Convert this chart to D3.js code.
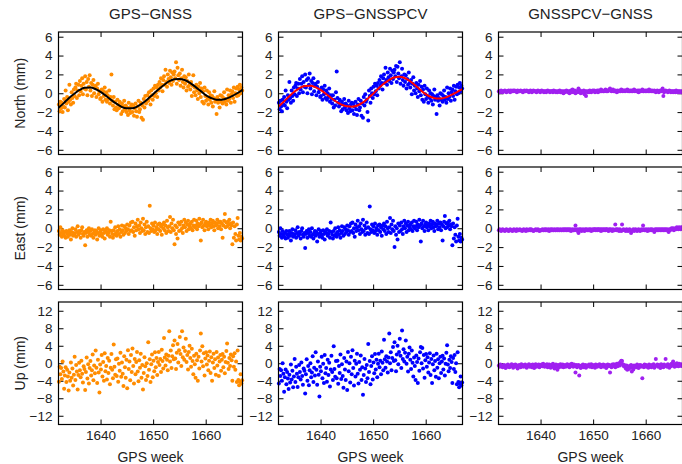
<!DOCTYPE html>
<html lang="en">
<head>
  <meta charset="UTF-8"/>
  <title>GPS / GNSS residuals</title>
  <script src="https://d3js.org/d3.v7.min.js"></script>
  <style>
body {
  margin: 0;
  background: #fff;
  font-family: 'Liberation Sans', Arial, sans-serif;
}

svg {
  display: block;
}

text {
  fill: #222;
}

text.title {
  font-size: 15px;
}

text.label {
  font-size: 14px;
}

.tick text {
  font-size: 13.5px;
  fill: #222;
}

.tick line {
  stroke: #000;
}

rect.frame {
  fill: none;
  stroke: #000;
  stroke-width: 1.2;
}
  </style>
</head>
<body>
  <svg width="682" height="464"></svg>
  <script>

// x axis: daily solutions between these GPS weeks
const firstWeek = 1632
const lastWeek = 1667
const xTicks = [1640, 1650, 1660]

const columnTitles = ['GPS\u2212GNSS', 'GPS\u2212GNSSPCV', 'GNSSPCV\u2212GNSS']
const rowLabels = ['North (mm)', 'East (mm)', 'Up (mm)']
const horizTicks = [-6, -4, -2, 0, 2, 4, 6]
const upTicks = [-12, -8, -4, 0, 4, 8, 12]

// North, mm (one value per day)
const gpsGnssNorth = [
  -1.2,-1.9,-0.9,-1.6,-1.0,-2.0,-1.4, -0.6,-1.5,0.3,-1.1,-0.4,-1.8,-0.9,
  0.9,-0.7,-1.2,0.1,-0.5,-1.0,0.4, -0.3,0.6,1.0,-0.5,0.3,0.9,-0.2,
  1.3,0.2,0.8,1.6,-0.1,1.0,0.5, 1.8,0.4,1.2,-0.2,1.5,0.7,1.9,
  0.3,1.1,-0.3,0.9,1.4,0.0,0.6, 0.8,-0.4,0.5,1.0,-0.1,0.2,-0.6,
  -0.5,0.4,-0.9,0.2,-0.3,0.6,-0.7, 0.1,-0.9,-0.2,-0.6,0.3,-1.1,-0.4,
  2.0,-0.8,-1.3,-0.4,-1.7,-0.9,-1.5, -1.8,-0.7,-1.2,-1.6,-0.9,-1.4,-2.2,
  -1.1,-1.9,-1.4,-0.8,-1.7,-1.3,-2.0, -1.5,-2.3,-1.0,-1.8,-2.1,-1.4,-1.2,
  -2.0,-1.3,-2.4,-1.6,-1.1,-1.9,-2.5, -1.4,-0.8,-2.0,-1.7,-1.0,-2.6,-1.3,
  -2.8,-0.6,-1.5,-0.3,-1.1,-0.9,-0.2, -0.8,0.1,-0.5,-1.2,0.3,-0.2,-0.7,
  0.5,-0.3,0.8,0.0,0.6,-0.4,0.9, 0.3,1.2,0.6,1.6,0.9,0.2,1.4,
  1.8,0.9,2.5,1.2,0.7,2.0,1.5, 1.1,2.4,1.7,0.9,2.2,1.3,2.0,
  2.3,1.6,3.3,1.0,2.7,1.9,1.4, 2.1,0.8,1.6,2.5,1.2,0.6,1.8,
  1.0,1.7,0.3,1.3,0.7,2.0,0.9, 0.4,1.2,-0.3,0.8,1.9,0.1,0.6,
  -0.2,0.9,0.3,-0.6,0.7,0.0,1.1, -0.4,0.5,-0.9,0.2,-1.1,0.6,-0.3,
  -0.8,0.3,-0.5,-1.2,0.1,-0.7,-0.2, -1.0,-0.3,-1.4,-0.5,0.2,-0.9,-0.6,
  -2.2,-0.4,-1.0,-0.7,-1.5,-0.2,-0.9, -0.3,-1.1,-0.5,0.1,-0.9,-0.6,-1.2,
  0.4,-0.8,-0.2,-0.6,0.3,-1.0,-0.1, 0.2,-0.5,0.6,-0.9,0.0,0.5,-0.3,
  0.7,-0.2,0.4,0.9,0.0,0.6,0.3
]
const gpsGnssPcvNorth = [
  -1.0,-1.7,-0.8,-1.4,-1.9,-0.7,-1.2, -0.4,-1.3,0.3,-0.9,-1.6,-0.2,-0.7,
  1.2,-0.5,-1.0,0.3,-0.3,-0.8,0.6, -0.1,0.8,1.1,-0.3,0.5,1.0,0.0,
  1.5,0.4,1.0,1.8,0.1,1.2,0.7, 2.0,0.6,1.4,0.0,1.6,0.9,2.1,
  0.5,1.3,-0.1,1.1,1.6,0.2,0.8, 1.0,-0.2,0.7,1.2,0.1,0.4,-0.4,
  -0.3,0.6,-0.7,0.4,-0.1,0.8,-0.5, 0.3,-0.7,0.0,-0.4,0.5,-0.9,-0.2,
  -0.6,-1.1,-0.2,-1.5,-0.7,-1.3,0.1, 2.3,-0.5,-1.0,-1.4,-0.7,-1.2,-1.9,
  -0.9,-1.7,-1.2,-0.6,-1.5,-1.1,-1.8, -1.3,-2.1,-0.8,-1.6,-1.9,-1.2,-1.0,
  -1.8,-1.1,-2.2,-1.4,-0.9,-1.7,-2.3, -1.2,-0.6,-1.8,-1.5,-0.8,-2.4,-1.1,
  -2.6,-0.4,-1.3,-0.1,-0.9,-0.7,-2.0, -2.9,0.3,-0.3,-1.0,0.5,0.0,-0.5,
  0.7,-0.1,1.0,0.2,0.8,-0.2,1.1, 0.5,1.4,0.8,1.8,1.1,0.4,1.6,
  2.0,1.1,2.7,1.4,0.9,2.2,1.7, 1.3,2.6,1.9,1.1,2.4,1.5,2.2,
  2.5,1.8,2.9,1.2,2.8,2.1,1.6, 3.3,1.0,1.8,2.6,1.4,0.8,2.0,
  1.2,1.9,0.5,1.5,0.9,2.2,1.1, 0.6,1.4,-0.1,1.0,1.7,0.3,0.8,
  0.0,1.1,0.5,-0.4,0.9,0.2,1.3, -0.2,0.7,-0.7,0.4,-0.9,0.8,-0.1,
  -0.6,0.5,-0.3,-1.0,0.3,-0.5,0.0, -0.8,-0.1,-1.2,-0.3,0.4,-0.7,-0.4,
  -2.2,-0.2,-0.8,-0.5,-1.3,0.0,-0.7, -0.1,-0.9,-0.3,0.3,-0.7,-0.4,-1.0,
  0.6,-0.6,0.0,-0.4,0.5,-0.8,0.1, 0.4,-0.3,0.8,-0.7,0.2,0.7,-0.1,
  0.9,0.0,0.6,1.1,0.2,0.8,0.5
]
const gnssPcvGnssNorth = [
  0.2,0.1,0.2,0.3,0.2,0.1,0.2, 0.2,0.3,0.2,0.1,0.2,0.2,0.3,
  0.2,0.1,0.3,0.2,0.2,0.3,0.2, 0.3,0.2,0.2,0.1,0.3,0.2,0.2,
  0.2,0.3,0.2,0.2,0.1,0.2,0.3, 0.2,0.2,0.3,0.2,0.2,0.1,0.2,
  0.3,0.2,0.1,0.2,0.3,0.2,0.2, 0.2,0.1,0.2,0.3,0.2,0.2,0.1,
  0.2,0.3,0.2,0.2,0.1,0.2,0.2, 0.1,0.2,0.3,0.2,0.2,0.1,0.2,
  0.2,0.2,0.1,0.3,0.2,0.2,0.1, 0.2,0.1,0.2,0.2,0.3,0.1,0.2,
  0.1,0.2,0.0,0.2,0.1,0.2,0.3, 0.2,0.1,0.2,0.0,0.2,0.3,0.1,
  0.4,0.2,0.1,0.3,0.0,0.2,0.1, 0.2,0.5,0.1,0.3,0.0,0.2,0.1,
  0.1,0.3,-0.1,0.2,-0.3,0.2,0.1, 0.2,0.1,0.3,0.2,0.1,0.2,0.3,
  0.2,0.3,0.1,0.2,0.2,0.3,0.1, 0.3,0.2,0.2,0.4,0.2,0.3,0.2,
  0.2,0.3,0.4,0.2,0.3,0.2,0.3, 0.4,0.5,0.3,0.2,0.3,0.4,0.2,
  0.2,0.3,0.2,0.1,0.3,0.2,0.2, 0.3,0.2,0.4,0.3,0.2,0.3,0.3,
  0.2,0.3,0.3,0.4,0.2,0.3,0.2, 0.3,0.2,0.3,0.2,0.3,0.4,0.2,
  0.3,0.2,0.2,0.3,0.1,0.3,0.2, 0.2,0.3,0.4,0.2,0.2,0.3,0.2,
  0.3,0.2,0.3,0.2,0.4,0.2,0.3, 0.2,0.3,0.2,0.2,0.3,0.2,0.1,
  0.2,0.3,0.2,0.1,0.2,0.3,0.2, 0.3,0.5,-0.3,0.1,0.2,0.3,0.2,
  0.2,0.1,0.2,0.3,0.2,0.1,0.2, 0.2,0.1,0.2,0.2,0.1,0.3,0.2,
  0.1,0.2,0.2,0.1,0.2,0.1,0.2
]

// East, mm
const gpsGnssEast = [
  -0.3,-0.7,0.1,-0.5,-0.9,-0.2,-0.6, -0.8,-0.4,-1.0,-0.3,-0.6,-0.9,-0.5,
  -0.2,-0.7,-1.2,-0.4,0.0,-0.8,-0.5, -0.6,-0.1,-0.9,-0.4,0.2,-0.7,-0.3,
  -0.5,-1.0,-0.2,0.1,-0.6,-0.8,-0.4, -1.8,-0.5,-0.2,-0.9,-0.4,0.0,-0.7,
  -0.3,-0.8,-0.1,-0.6,-1.0,-0.4,-0.2, -0.7,-0.3,-1.2,-0.5,0.0,-0.8,-0.4,
  -0.2,-0.6,-0.9,-0.1,-0.5,-1.1,-0.3, -0.4,0.0,-0.7,-0.5,-0.2,-0.9,0.7,
  -0.3,-0.6,-1.0,-0.2,-0.7,0.1,-0.5, -0.8,-0.3,0.2,-0.6,-0.1,-0.9,-0.4,
  0.3,-0.2,-0.7,0.2,-0.5,0.0,-0.3, 0.4,-0.1,-0.6,0.3,-0.3,0.6,-0.2,
  0.7,-0.4,0.1,-0.8,0.5,-0.2,0.2, 0.9,-0.1,0.3,-0.5,0.6,0.0,-0.3,
  1.0,-0.2,0.4,-0.6,0.1,0.7,-0.4, 0.2,-0.5,2.4,0.0,-0.3,0.5,-0.1,
  0.3,-0.4,0.6,-0.2,0.1,-0.6,0.4, -0.1,0.5,-0.3,0.2,-0.7,0.4,0.0,
  0.6,-0.2,0.3,-0.5,0.8,0.1,-0.3, 0.2,1.2,-0.4,0.5,0.0,0.9,-0.2,
  -1.7,0.3,-0.6,0.1,-1.1,0.6,-0.3, 0.4,-0.2,0.7,0.0,-0.5,0.3,0.9,
  0.1,0.6,-0.3,0.4,0.8,-0.1,0.2, 0.5,0.0,0.7,-0.2,0.3,0.9,0.1,
  0.3,0.8,-0.1,0.5,0.2,1.0,0.4, -1.3,0.6,0.1,0.9,0.3,-0.2,0.5,
  0.7,0.2,0.4,-0.1,0.6,0.3,0.9, 0.1,0.5,0.8,0.2,-0.2,0.6,0.3,
  0.4,0.9,0.0,0.6,0.2,0.7,-0.1, 0.5,-1.0,0.3,0.8,1.5,0.1,0.6,
  0.2,0.7,0.4,0.9,0.0,0.5,0.3, -1.7,0.6,-1.0,0.2,-0.6,-1.3,0.4,
  1.1,-0.8,-1.2,-0.5,-1.3,-0.9,-1.1
]
const gpsGnssPcvEast = [
  -0.4,-0.8,0.0,-0.6,-1.0,-0.3,-0.7, -0.9,-0.5,-1.1,-0.3,-0.7,-1.0,-0.6,
  -0.3,-0.8,-1.3,-0.5,-0.1,-0.9,-0.6, -0.7,-0.2,-1.0,-0.5,0.1,-0.8,-0.4,
  -0.6,-1.1,-0.3,0.0,-0.7,-0.9,-0.5, -2.1,-0.6,-0.3,-1.0,-0.5,-0.1,-0.8,
  -0.4,-0.9,0.0,-0.7,-1.1,-0.5,-0.3, -0.8,-0.4,-1.4,-0.6,-0.1,-0.9,-0.5,
  -0.3,-0.7,-1.0,-0.2,-0.6,-1.2,-0.4, -0.5,-0.1,-0.8,-0.6,-0.3,-1.0,0.6,
  -0.4,-0.7,-1.1,-0.3,-0.8,0.0,-0.6, -0.9,-0.4,0.1,-0.7,-0.2,-1.0,-0.5,
  0.2,-0.3,-0.8,0.1,-0.6,-0.1,-0.4, 0.3,-0.2,-0.7,0.2,-0.4,0.5,-0.3,
  0.6,-0.5,0.0,-0.9,0.4,-0.3,0.1, 0.8,-0.2,0.2,-0.6,0.5,-0.1,-0.4,
  0.9,-0.3,0.3,-0.7,0.0,0.6,-0.5, 0.1,-0.6,2.3,-0.1,-0.4,0.4,-0.2,
  0.2,-0.5,0.5,-0.3,0.0,-0.7,0.3, -0.2,0.4,-0.4,0.1,-0.8,0.3,-0.1,
  0.5,-0.3,0.2,-0.6,0.7,0.0,-0.4, 0.1,1.1,-0.5,0.4,-0.1,0.8,-0.3,
  -2.0,0.2,-0.7,0.0,-1.2,0.5,-0.4, 0.3,-0.3,0.6,-0.1,-0.6,0.2,0.8,
  0.0,0.5,-0.4,0.3,0.7,-0.2,0.1, 0.4,-0.1,0.6,-0.3,0.2,0.8,0.0,
  0.2,0.7,-0.2,0.4,0.1,0.9,0.3, -1.4,0.5,0.0,0.8,0.2,-0.3,0.4,
  0.6,0.1,0.3,-0.2,0.5,0.2,0.8, 0.0,0.4,0.7,0.1,-0.3,0.5,0.2,
  0.3,0.8,-0.1,0.5,0.1,0.6,-0.2, 0.4,-1.3,0.2,0.7,1.3,0.0,0.5,
  0.1,0.6,0.3,0.8,-0.1,0.4,0.2, -1.8,0.5,-1.1,0.1,-0.7,-1.4,0.3,
  1.0,-0.9,-1.3,-0.6,-1.4,-1.0,-1.2
]
const gnssPcvGnssEast = [
  -0.2,-0.1,-0.2,-0.3,-0.2,-0.1,-0.2, -0.2,-0.3,-0.2,-0.1,-0.2,-0.2,-0.3,
  -0.2,-0.1,-0.2,-0.2,-0.3,-0.2,-0.1, -0.2,-0.2,-0.3,-0.1,-0.2,-0.2,-0.2,
  -0.1,-0.2,-0.2,-0.3,-0.2,-0.1,-0.2, -0.2,-0.3,-0.1,-0.2,-0.2,-0.2,-0.1,
  -0.2,-0.1,-0.2,-0.2,-0.3,-0.2,-0.2, -0.1,-0.2,-0.2,-0.1,-0.2,-0.3,-0.2,
  -0.2,-0.2,-0.1,-0.2,-0.2,-0.1,-0.2, -0.1,-0.2,-0.2,-0.1,-0.3,-0.2,-0.1,
  -0.2,-0.1,-0.2,-0.2,-0.1,-0.2,-0.2, -0.1,-0.2,-0.1,-0.2,-0.2,-0.1,-0.2,
  -0.2,-0.1,-0.2,-0.1,-0.2,-0.1,-0.2, -0.1,-0.2,-0.1,-0.2,-0.1,-0.3,-0.2,
  -0.1,-0.2,-0.2,-0.1,0.3,-0.2,-0.1, -0.3,-0.5,-0.1,-0.2,-0.1,-0.3,-0.2,
  -0.1,-0.2,-0.3,-0.1,-0.2,-0.1,-0.2, -0.2,-0.1,-0.2,-0.1,-0.3,-0.2,-0.1,
  -0.2,-0.1,-0.1,-0.2,-0.1,-0.2,-0.1, -0.1,-0.2,-0.1,-0.3,-0.1,-0.2,-0.1,
  -0.2,-0.1,-0.2,-0.1,-0.1,-0.2,-0.3, -0.1,-0.2,-0.1,-0.2,-0.3,-0.1,-0.2,
  -0.2,0.4,-0.1,-0.2,-0.1,-0.2,-0.3, -0.1,-0.2,-0.3,0.4,-0.2,-0.1,-0.2,
  -0.2,-0.3,-0.1,-0.2,-0.3,-0.2,-0.1, -0.2,-0.5,-0.3,-0.2,-0.1,-0.3,-0.2,
  -0.1,-0.2,-0.3,-0.2,-0.1,-0.2,-0.3, -0.2,-0.1,-0.2,0.3,-0.1,-0.2,-0.2,
  -0.1,-0.2,-0.3,-0.1,-0.2,-0.2,-0.1, -0.2,-0.1,-0.2,-0.2,-0.4,-0.1,-0.2,
  -0.1,-0.2,-0.1,-0.2,-0.1,-0.2,-0.1, -0.2,-0.1,-0.2,-0.1,-0.2,-0.1,-0.2,
  -0.1,-0.2,-0.4,-0.1,-0.2,-0.1,0.0, -0.1,0.0,-0.2,-0.1,0.0,-0.1,0.1,
  0.0,-0.1,0.1,0.0,-0.1,0.1,0.0
]

// Up, mm
const gpsGnssUp = [
  -4.2,-0.8,-2.5,-1.1,-3.6,0.4,-1.9, -5.8,-2.8,-0.9,-4.3,-1.5,-3.0,-6.2,
  -2.1,-4.0,0.2,-3.3,-1.2,-5.1,-2.6, 1.5,-3.8,-0.4,-1.9,-6.0,-2.7,0.1,
  -1.6,-3.2,0.6,-2.4,-4.4,-0.7,-1.3, -6.1,-2.0,1.3,-3.5,-0.2,-4.6,-1.1,
  0.5,-2.8,-1.6,2.0,-3.9,-0.5,-2.3, 2.9,-1.0,-4.5,0.8,-2.1,-6.7,-0.3,
  -1.4,1.9,-3.0,0.3,-4.0,2.3,-1.8, -0.6,-3.7,1.2,-2.2,0.6,-4.8,-1.0,
  2.1,-1.5,-3.4,4.3,-0.8,-2.6,0.9, -2.9,1.1,-4.2,-0.1,-1.7,2.4,-3.1,
  0.2,-2.4,-5.2,1.6,-0.9,-3.3,0.8, -5.7,3.0,-1.3,0.4,-3.9,1.9,-2.0,
  3.4,-0.6,-4.6,1.0,-2.5,0.3,2.6, -1.9,-4.1,0.7,-1.0,2.2,-3.3,-0.4,
  -6.0,-2.2,1.4,-0.7,-3.8,0.0,-2.9, 4.8,-1.5,0.9,-4.3,-0.2,2.0,-3.2,
  0.6,-1.8,2.5,-0.9,1.2,-2.7,0.3, 2.6,-0.4,1.0,-2.0,3.1,0.5,-1.2,
  5.8,1.3,-0.5,2.0,0.8,-1.6,1.7, 7.3,0.4,2.9,-1.1,1.6,4.1,0.9,
  5.2,1.1,-1.3,2.4,4.4,0.2,3.0, 6.0,2.1,-0.6,7.3,1.4,3.6,0.8,
  2.8,5.6,0.3,1.9,-1.4,2.6,4.0, 1.2,-0.8,3.3,0.5,-2.5,1.7,-0.2,
  -3.3,2.2,0.7,-4.0,1.5,-1.2,2.9, 6.8,0.4,3.9,-0.7,2.3,-2.8,1.1,
  2.5,-0.3,1.8,-1.6,0.6,2.7,-2.2, 1.4,-4.0,0.2,2.2,-1.1,0.9,-2.6,
  2.6,-0.5,1.3,-2.9,0.4,1.9,-1.7, 0.8,2.1,-0.9,1.5,-2.3,0.3,2.8,
  4.5,0.1,-1.3,1.2,-0.6,2.0,0.7, -4.0,1.6,-0.8,2.3,-1.5,0.4,-4.3,
  2.9,-3.8,-5.0,-4.2,-2.5,-4.6,-3.9
]
const gpsGnssPcvUp = [
  -4.6,-1.3,-2.9,-1.6,-4.0,0.0,-2.4, -6.5,-3.2,-1.4,-4.8,-2.0,-3.5,-5.9,
  -2.6,-4.4,-0.3,-3.7,-1.7,-5.5,-3.0, 1.0,-4.3,-0.8,-2.4,-5.4,-3.2,-0.4,
  -2.0,-3.7,0.2,-2.9,-4.9,-1.2,-1.7, -6.9,-2.5,0.9,-4.0,-0.6,-5.0,-1.6,
  0.0,-3.2,-2.1,1.6,-4.3,-1.0,-2.8, 2.5,-1.5,-4.9,0.4,-2.6,-7.6,-0.8,
  -1.8,1.5,-3.4,-0.1,-4.5,1.9,-2.3, -1.1,-4.2,0.8,-2.7,0.1,-5.3,-1.4,
  1.7,-2.0,-3.8,3.9,-1.3,-3.1,0.5, -3.4,0.6,-4.7,-0.6,-2.2,2.0,-3.6,
  -0.2,-2.9,-5.6,1.2,-1.4,-3.8,0.4, -6.1,2.6,-1.8,0.0,-4.4,1.5,-2.5,
  3.0,-1.1,-5.1,0.6,-3.0,-0.1,2.2, -2.4,-4.6,0.3,-1.5,1.8,-3.8,-0.9,
  -7.2,-2.7,1.0,-1.2,-4.3,-0.4,-3.4, 4.4,-2.0,0.5,-4.8,-0.6,1.6,-3.7,
  0.2,-2.3,2.1,-1.4,0.8,-3.2,-0.1, 2.2,-0.9,0.6,-2.5,2.7,0.1,-1.6,
  5.4,0.9,-1.0,1.6,0.4,-2.1,1.3, 6.8,0.0,2.5,-1.6,1.2,3.7,0.5,
  4.8,0.7,-1.8,2.0,4.0,-0.2,2.6, 5.6,1.7,-1.1,7.5,1.0,3.2,0.4,
  2.4,5.2,-0.1,1.5,-1.9,2.2,3.6, 0.8,-1.3,2.9,0.1,-3.0,1.3,-0.6,
  -3.8,1.8,0.3,-4.5,1.1,-1.7,2.5, 3.7,0.0,3.5,-1.2,1.9,-3.3,0.7,
  2.1,-0.8,1.4,-2.1,0.2,2.3,-2.7, 1.0,-4.5,-0.2,1.8,-1.6,0.5,-3.1,
  2.2,-1.0,0.9,-3.4,0.0,1.5,-2.2, 0.4,1.7,-1.4,1.1,-2.8,-0.1,2.4,
  4.1,-0.3,-1.8,0.8,-1.1,1.6,0.3, -4.5,1.2,-1.3,1.9,-2.0,0.0,-4.8,
  2.5,-4.3,-5.5,-4.7,-3.0,-5.1,-4.4
]
const gnssPcvGnssUp = [
  -0.5,-0.8,-0.3,-0.7,-0.5,-0.9,-0.6, -0.4,-0.7,-1.1,-0.5,-0.8,-0.3,-0.6,
  -0.9,-0.5,-0.7,-0.2,-0.6,-1.0,-0.4, -0.7,-0.3,-0.8,-0.5,-1.2,-0.6,-0.4,
  -0.5,-0.9,-0.2,-0.7,-0.4,-0.8,-0.6, -0.3,-0.7,-1.0,-0.5,-0.6,-0.2,-0.8,
  -0.6,-0.4,-0.9,-0.3,-0.7,-1.1,-0.5, -0.2,-0.8,-0.5,-0.6,-0.3,-0.9,-0.4,
  -0.5,-0.3,-0.7,-0.1,-0.6,-0.8,-0.4, -0.6,-0.2,-0.9,-0.5,-0.3,-0.7,-1.0,
  -0.4,-0.8,-0.1,-0.6,-1.2,-0.5,-0.3, -0.7,-1.5,-0.4,-0.9,-0.6,-0.2,-0.8,
  -0.5,-0.3,-0.9,-0.6,-0.4,-0.8,-0.5, -0.2,-0.7,-0.4,-0.9,-0.3,-0.6,-0.1,
  -0.5,-0.8,-0.3,-0.6,-2.1,-0.4,-0.9, -0.7,-0.4,-2.8,-0.6,-1.1,-0.5,-0.8,
  -0.3,-0.9,-0.6,-0.4,-1.0,-0.5,-0.7, -0.6,-0.3,-0.8,-0.5,-0.2,-0.9,-0.4,
  -0.7,-0.5,-1.0,-0.3,-0.6,-0.8,-0.4, -0.5,-0.2,-0.7,-0.9,-0.4,-0.6,-0.3,
  -0.8,-0.4,-0.6,-1.1,-0.5,-0.3,-0.7, -0.4,-2.1,-0.6,-0.9,-0.3,-0.5,-0.2,
  -0.6,-0.9,-0.4,-0.1,-0.7,-0.3,0.0, -0.5,0.3,0.6,0.5,-0.2,-0.6,-0.4,
  -0.8,-1.2,-0.5,-1.5,-0.9,-1.3,-0.6, -1.0,-0.4,-1.9,-0.7,-1.4,-0.5,-0.8,
  -0.6,-0.9,-0.3,-0.7,-1.1,-0.5,-0.4, -0.8,-0.5,-3.4,-0.6,-0.9,-0.3,-0.7,
  -0.4,-0.8,-0.6,-1.0,-0.3,-0.7,-0.5, -0.9,-0.4,-0.7,-0.2,-1.0,-0.6,1.0,
  -0.5,-0.3,-0.8,-0.4,-0.6,-1.1,-0.2, -0.7,-0.4,-0.9,-0.3,-0.6,1.0,-0.5,
  -0.8,-0.2,-0.6,-1.0,-0.4,-0.7,-0.1, -0.5,0.4,-0.3,-0.8,-0.2,-0.6,0.0,
  -0.4,-0.7,-0.1,-0.5,-0.3,-0.6,-0.2
]

// fitted seasonal signal in North, read once per week
const fitWeeks = [
  1632, 1633, 1634, 1635, 1636, 1637, 1638, 1639, 1640, 1641, 1642, 1643,
  1644, 1645, 1646, 1647, 1648, 1649, 1650, 1651, 1652, 1653, 1654, 1655,
  1656, 1657, 1658, 1659, 1660, 1661, 1662, 1663, 1664, 1665, 1666, 1667
]
const fitGpsGnssNorth = [
  -1.55, -1.05, -0.5, -0.05, 0.35, 0.58, 0.6, 0.45, 0.15, -0.25, -0.7, -1.1,
  -1.45, -1.6, -1.6, -1.4, -1.05, -0.6, -0.1, 0.4, 0.85, 1.25, 1.48, 1.52,
  1.4, 1.1, 0.7, 0.25, -0.2, -0.5, -0.68, -0.7, -0.55, -0.3, 0.0, 0.35
]
const fitGpsGnssPcvNorth = [
  -1.4, -0.9, -0.35, 0.15, 0.55, 0.78, 0.8, 0.65, 0.35, -0.05, -0.5, -0.9,
  -1.2, -1.38, -1.42, -1.3, -1.0, -0.55, -0.05, 0.5, 1.0, 1.4, 1.68, 1.75,
  1.62, 1.3, 0.85, 0.35, -0.1, -0.4, -0.55, -0.55, -0.4, -0.15, 0.15, 0.45
]

const dotColors = ['#ff8c00', '#0000ff', '#a020f0']

const grid = [
  [gpsGnssNorth, gpsGnssPcvNorth, gnssPcvGnssNorth],
  [gpsGnssEast, gpsGnssPcvEast, gnssPcvGnssEast],
  [gpsGnssUp, gpsGnssPcvUp, gnssPcvGnssUp]
]
const fits = [
  { row: 0, col: 0, values: fitGpsGnssNorth, color: '#000' },
  { row: 0, col: 1, values: fitGpsGnssPcvNorth, color: '#ff0000' }
]

const svg = d3.select('svg')

const plotW = 184
const plotH = 122.5
const lefts = [58.5, 278.5, 498.5]
const tops = [32, 167, 302]

const xScale = d3.scaleLinear()
  .domain([firstWeek, lastWeek])
  .range([0, plotW])

const yScales = [
  d3.scaleLinear().domain([-6.5, 6.5]).range([plotH, 0]),
  d3.scaleLinear().domain([-6.5, 6.5]).range([plotH, 0]),
  d3.scaleLinear().domain([-14, 14]).range([plotH, 0])
]
const yTickSets = [horizTicks, horizTicks, upTicks]

// one sample per day, centred in the day
const dayToWeek = (i) => firstWeek + (i + 0.5) / 7

grid.forEach((rowSeries, r) => {
  rowSeries.forEach((values, c) => {
    const yScale = yScales[r]
    const panel = svg.append('g')
      .attr('transform', `translate(${lefts[c]}, ${tops[r]})`)

    // gnuplot style: inward ticks mirrored on all sides
    panel.append('g')
      .call(d3.axisLeft(yScale).tickValues(yTickSets[r])
        .tickSizeInner(-5).tickSizeOuter(0).tickPadding(6))
      .call(g => g.select('.domain').remove())

    panel.append('g')
      .attr('transform', `translate(${plotW}, 0)`)
      .call(d3.axisRight(yScale).tickValues(yTickSets[r])
        .tickSizeInner(-5).tickSizeOuter(0).tickFormat(''))
      .call(g => g.select('.domain').remove())

    panel.append('g')
      .call(d3.axisTop(xScale).tickValues(xTicks)
        .tickSizeInner(-5).tickSizeOuter(0).tickFormat(''))
      .call(g => g.select('.domain').remove())

    const bottom = d3.axisBottom(xScale).tickValues(xTicks)
      .tickSizeInner(-5).tickSizeOuter(0).tickPadding(6)
      .tickFormat(r < 2 ? '' : d3.format('d'))
    panel.append('g')
      .attr('transform', `translate(0, ${plotH})`)
      .call(bottom)
      .call(g => g.select('.domain').remove())

    panel.selectAll('circle')
      .data(values)
      .enter()
      .append('circle')
      .attr('cx', (v, i) => xScale(dayToWeek(i)))
      .attr('cy', (v) => yScale(v))
      .attr('r', 2)
      .attr('fill', dotColors[c])

    const fit = fits.find(f => f.row === r && f.col === c)
    if (fit) {
      const line = d3.line()
        .x((v, i) => xScale(fitWeeks[i]))
        .y((v) => yScale(v))
        .curve(d3.curveMonotoneX)
      panel.append('path')
        .attr('d', line(fit.values))
        .attr('fill', 'none')
        .attr('stroke', fit.color)
        .attr('stroke-width', 2)
    }

    panel.append('rect')
      .attr('class', 'frame')
      .attr('width', plotW)
      .attr('height', plotH)
  })
})

columnTitles.forEach((t, c) => {
  svg.append('text')
    .attr('class', 'title')
    .attr('x', lefts[c] + plotW / 2)
    .attr('y', 19)
    .attr('text-anchor', 'middle')
    .text(t)

  svg.append('text')
    .attr('class', 'label')
    .attr('x', lefts[c] + plotW / 2)
    .attr('y', 462)
    .attr('text-anchor', 'middle')
    .text('GPS week')
})

rowLabels.forEach((t, r) => {
  svg.append('text')
    .attr('class', 'label')
    .attr('transform', `translate(25, ${tops[r] + plotH / 2}) rotate(-90)`)
    .attr('text-anchor', 'middle')
    .text(t)
})

  </script>
</body>
</html>
